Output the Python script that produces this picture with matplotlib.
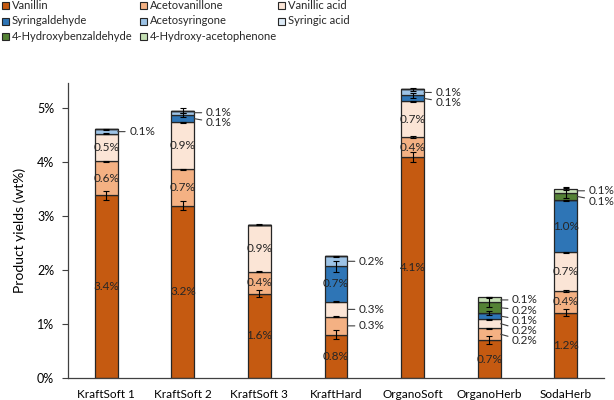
import matplotlib
matplotlib.use("Agg")
import matplotlib.pyplot as plt
from matplotlib.patches import Rectangle
import numpy as np

plt.rcParams['font.family'] = ['Lato', 'DejaVu Sans']

categories = ["KraftSoft 1", "KraftSoft 2", "KraftSoft 3", "KraftHard",
              "OrganoSoft", "OrganoHerb", "SodaHerb"]
series_names = ["Vanillin", "Acetovanillone", "Vanillic acid", "Syringaldehyde",
                "Acetosyringone", "Syringic acid", "4-Hydroxybenzaldehyde",
                "4-Hydroxy-acetophenone"]

vanillin         = [3.38, 3.19, 1.56, 0.80, 4.09, 0.70, 1.21]
acetovanillone   = [0.63, 0.67, 0.41, 0.33, 0.37, 0.22, 0.40]
vanillic_acid    = [0.51, 0.87, 0.87, 0.28, 0.66, 0.17, 0.72]
syringaldehyde   = [0.00, 0.14, 0.00, 0.66, 0.11, 0.11, 0.96]
acetosyringone   = [0.08, 0.08, 0.00, 0.18, 0.11, 0.00, 0.00]
syringic_acid    = [0.00, 0.00, 0.00, 0.00, 0.00, 0.00, 0.00]
hydroxybenzald   = [0.00, 0.00, 0.00, 0.00, 0.00, 0.20, 0.14]
hydroxyacetoph   = [0.00, 0.00, 0.00, 0.00, 0.00, 0.09, 0.07]

err_vanillin       = [0.09, 0.08, 0.07, 0.08, 0.09, 0.07, 0.07]
err_acetovanillone = [0.01, 0.01, 0.01, 0.01, 0.01, 0.01, 0.01]
err_vanillic       = [0.01, 0.01, 0.01, 0.01, 0.01, 0.01, 0.01]
err_syringald      = [0.00, 0.04, 0.00, 0.10, 0.04, 0.04, 0.01]
err_acetosyr       = [0.01, 0.05, 0.00, 0.01, 0.03, 0.00, 0.00]
err_syringic       = [0.00, 0.00, 0.00, 0.00, 0.00, 0.00, 0.00]
err_hbald          = [0.00, 0.00, 0.00, 0.00, 0.00, 0.09, 0.10]
err_hacet          = [0.00, 0.00, 0.00, 0.00, 0.00, 0.01, 0.02]

values = [vanillin, acetovanillone, vanillic_acid, syringaldehyde,
          acetosyringone, syringic_acid, hydroxybenzald, hydroxyacetoph]
errors = [err_vanillin, err_acetovanillone, err_vanillic, err_syringald,
          err_acetosyr, err_syringic, err_hbald, err_hacet]

colors = ["#C55A11", "#F4B183", "#FBE5D6", "#2E75B6",
          "#9DC3E6", "#DEEBF7", "#548235", "#C5E0B4"]

fig = plt.figure(figsize=(6.14, 4.0), dpi=100)
ax = fig.add_axes([68/614, 22/400, (604-68)/614, (378-83)/400])

x = np.arange(len(categories))
w = 0.30
bottom = np.zeros(len(categories))
tops = []
for vals, errs, col in zip(values, errors, colors):
    vals = np.array(vals)
    ax.bar(x, vals, w, bottom=bottom, color=col, edgecolor="#262626",
           linewidth=0.9, zorder=2)
    top = bottom + vals
    mask = vals > 0
    ax.errorbar(x[mask], top[mask], yerr=np.array(errs)[mask], fmt="none",
                ecolor="black", elinewidth=0.8, capsize=2.5, capthick=0.8,
                zorder=3)
    tops.append((bottom.copy(), vals))
    bottom = top

# labels
thr = 0.35
gap = 0.19
for i in range(len(categories)):
    outside = []
    for (b, vals) in tops:
        v = vals[i]
        if v <= 0:
            continue
        mid = b[i] + v / 2
        if v >= thr:
            ax.text(x[i], mid, f"{v:.1f}%", ha="center", va="center",
                    fontsize=8.5, color="#262626", zorder=4)
        else:
            outside.append((mid, v))
    outside.sort(key=lambda t: -t[0])
    prev = None
    for mid, v in outside:
        ly = mid if prev is None else min(mid, prev - gap)
        prev = ly
        ax.annotate(f"{v:.1f}%", xy=(x[i] + w / 2, mid),
                    xytext=(x[i] + w / 2 + 0.15, ly),
                    ha="left", va="center", fontsize=8.5, color="#262626",
                    arrowprops=dict(arrowstyle="-", color="#404040", lw=0.8,
                                    shrinkA=1, shrinkB=0), zorder=4)

ax.set_xlim(-0.5, len(categories) - 0.5)
ax.set_ylim(0, 5.46)
ax.set_yticks(np.arange(0, 6, 1))
ax.set_yticklabels([f"{int(t)}%" for t in np.arange(0, 6, 1)], fontsize=9)
ax.set_xticks(x)
ax.set_xticklabels(categories, fontsize=8.5)
ax.tick_params(axis="x", length=0, pad=8)
ax.tick_params(axis="y", length=4, direction="out", color="#404040", pad=6)
for s in ["top", "right"]:
    ax.spines[s].set_visible(False)
for s in ["left", "bottom"]:
    ax.spines[s].set_color("#404040")
    ax.spines[s].set_linewidth(0.9)
ax.set_ylabel("Product yields (wt%)", fontsize=10, labelpad=8)

# legend (row-major, 3 columns) drawn manually
for k, (name, col) in enumerate(zip(series_names, colors)):
    r, c = divmod(k, 3)
    px = 2 + 138 * c
    py = 5 + 15.5 * r
    fig.patches.append(Rectangle((px / 614, 1 - (py + 4) / 400), 7 / 614, 7 / 400,
                                 transform=fig.transFigure, facecolor=col,
                                 edgecolor="#262626", linewidth=0.8))
    fig.text((px + 10) / 614, 1 - (py + 0.5) / 400, name, fontsize=8,
             va="center", ha="left", color="#262626")

fig.savefig("out.png", dpi=100)
